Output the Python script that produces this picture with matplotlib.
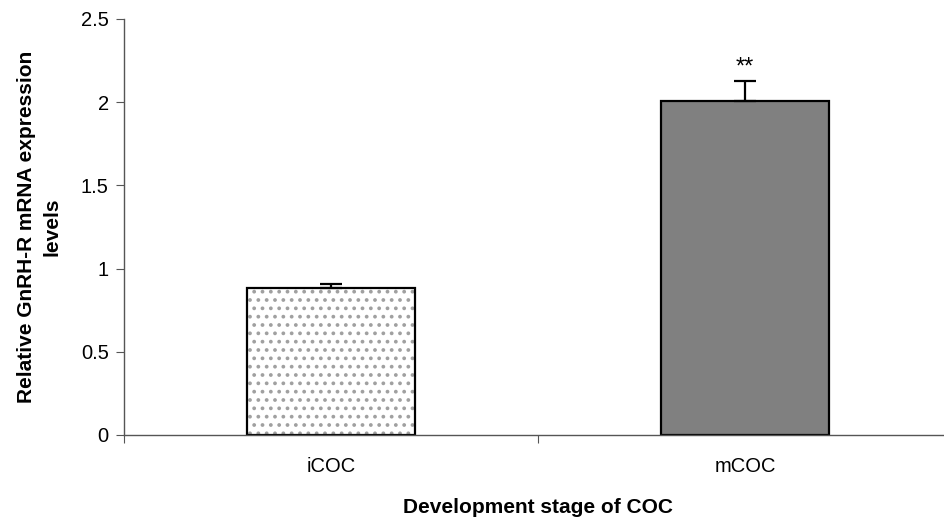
import matplotlib
matplotlib.use('Agg')
import matplotlib.pyplot as plt
import numpy as np

plt.rcParams['font.family'] = ['Liberation Sans', 'DejaVu Sans']
plt.rcParams['hatch.linewidth'] = 1.5

# data
stages = ['iCOC', 'mCOC']
expression = [0.885, 2.005]
sem = [0.025, 0.12]
signif = ['', '**']

fig = plt.figure(figsize=(9.45, 5.23), dpi=100)
ax = fig.add_axes([124/945, 88/523, 828/945, 416/523])

x = np.arange(len(stages))
# grey dotted fill for the first bar, drawn underneath the black outlines
ax.bar(x[:1], expression[:1], width=0.405, color='white', edgecolor='#a0a0a0',
       linewidth=0, hatch='..', zorder=1)
ax.bar(x, expression, width=0.405, color=['none', '#808080'],
       edgecolor='black', linewidth=1.6, zorder=2)
ax.errorbar(x, expression, yerr=[np.zeros(len(sem)), sem], fmt='none',
            ecolor='black', elinewidth=1.6, capsize=8, capthick=1.6, zorder=3)

for xi, y, e, s in zip(x, expression, sem, signif):
    if s:
        ax.text(xi, y + e + 0.02, s, ha='center', va='bottom', fontsize=17)

ax.set_xlim(-0.5, 1.5)
ax.set_ylim(0, 2.5)
ax.set_yticks([0, 0.5, 1, 1.5, 2, 2.5])
ax.set_yticklabels(['0', '0.5', '1', '1.5', '2', '2.5'], fontsize=14.5)

# excel-style ticks between categories
ax.set_xticks([-0.5, 0.5, 1.5])
ax.set_xticklabels([])
ax.set_xticks(x, minor=True)
ax.set_xticklabels(stages, minor=True, fontsize=14.5)
ax.tick_params(axis='x', which='minor', length=0, pad=16)
ax.tick_params(axis='x', which='major', length=6, direction='out', color='#555555')
ax.tick_params(axis='y', length=6, direction='out', color='#555555', pad=5)

for side in ['top', 'right']:
    ax.spines[side].set_visible(False)
for side in ['left', 'bottom']:
    ax.spines[side].set_color('#555555')
    ax.spines[side].set_linewidth(1.0)

ax.set_xlabel('Development stage of COC', fontsize=15, fontweight='bold', labelpad=16)
ax.set_ylabel('Relative GnRH-R mRNA expression\nlevels', fontsize=15,
              fontweight='bold', labelpad=14, linespacing=1.45)

plt.savefig('out.png', dpi=100)
